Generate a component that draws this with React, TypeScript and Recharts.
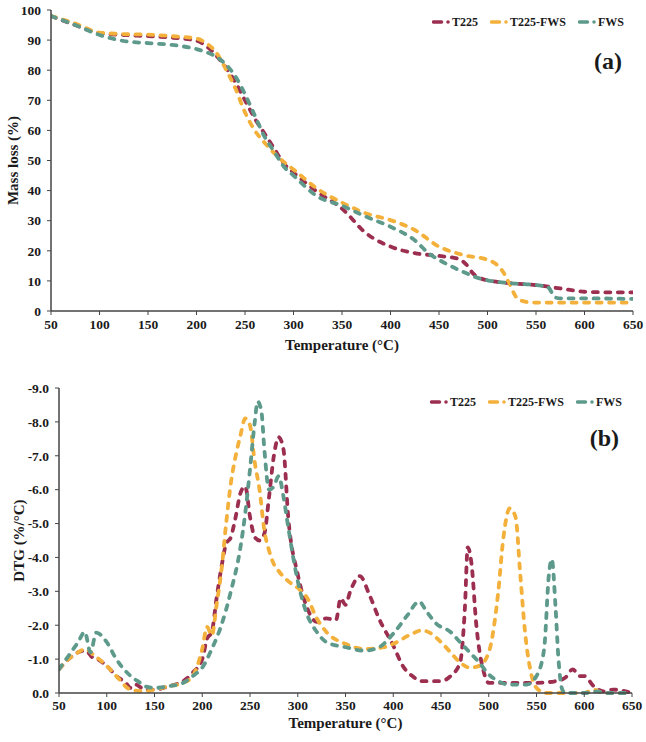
import { LineChart, Line, XAxis, YAxis } from 'recharts'

const SERIES = [
  { key: 't225', name: 'T225', color: '#9c2f50' },
  { key: 't225fws', name: 'T225-FWS', color: '#f3b03a' },
  { key: 'fws', name: 'FWS', color: '#5e9a8b' },
]

const tempTicks = [50, 100, 150, 200, 250, 300, 350, 400, 450, 500, 550, 600, 650]
const massTicks = [0, 10, 20, 30, 40, 50, 60, 70, 80, 90, 100]
const dtgTicks = [-9, -8, -7, -6, -5, -4, -3, -2, -1, 0]

// (a) mass loss, %
const tgT225Temp = [50, 75, 100, 125, 150, 175, 200, 210, 220, 230, 240, 250, 260, 270, 280, 290, 300, 325, 350, 375, 400, 425, 450, 470, 478, 485, 495, 500, 525, 550, 575, 600, 625, 650]
const tgT225 = [98, 95, 92.3, 91.7, 91.3, 90.8, 89.8, 88, 85, 81, 76, 70, 64, 59, 54, 49, 46, 39.5, 34, 25.8, 21.4, 19.2, 18.3, 17.3, 15.5, 12.5, 10.6, 10.2, 9.2, 8.6, 7.5, 6.4, 6.2, 6.2]

const tgT225FwsTemp = [50, 75, 100, 125, 150, 175, 200, 210, 220, 230, 240, 250, 260, 270, 280, 290, 300, 325, 350, 375, 400, 425, 450, 475, 500, 508, 515, 522, 530, 540, 550, 600, 650]
const tgT225Fws = [98, 95.5, 92.5, 92, 91.8, 91.3, 90.5, 89, 86, 80.5, 74, 66, 60, 56, 52.5, 49.5, 47, 40.5, 36, 32.4, 30.2, 26.9, 21.4, 18.6, 17, 15.8, 13.5, 9.5, 4.5, 3, 2.8, 2.8, 2.8]

const tgFwsTemp = [50, 75, 100, 125, 150, 175, 200, 210, 220, 230, 240, 250, 260, 270, 280, 290, 300, 325, 350, 375, 400, 425, 440, 450, 475, 490, 500, 525, 550, 562, 570, 575, 600, 650]
const tgFws = [98, 95, 91.7, 89.7, 89, 88.4, 87, 86, 84.5, 82, 78, 72, 65, 58, 53, 48, 45, 38, 35, 31.3, 28, 23.5, 19, 17, 13, 11, 10.2, 9.2, 8.6, 8, 4.5, 4.2, 4.2, 4]

// (b) DTG, %/°C
const dtgT225Temp = [50, 60, 70, 78, 85, 90, 100, 110, 120, 125, 130, 140, 150, 165, 180, 190, 200, 205, 210, 215, 220, 225, 230, 235, 240, 245, 250, 255, 260, 265, 270, 275, 280, 285, 290, 300, 310, 320, 330, 340, 345, 350, 355, 365, 375, 385, 400, 410, 420, 430, 450, 460, 470, 475, 478, 482, 487, 495, 500, 520, 550, 570, 580, 588, 595, 600, 610, 620, 630, 650]
const dtgT225 = [-0.7, -1.0, -1.2, -1.25, -1.05, -1.0, -0.8, -0.5, -0.3, -0.15, -0.25, -0.1, -0.1, -0.2, -0.35, -0.6, -1.0, -1.6, -1.8, -2.8, -3.7, -4.4, -4.6, -5.2, -5.9, -6.1, -5.2, -4.6, -4.5, -4.7, -5.8, -7.0, -7.55, -7.2, -5.2, -3.5, -2.5, -2.1, -2.2, -2.15, -2.8, -2.6, -3.0, -3.45, -2.9, -2.2, -1.4, -0.8, -0.5, -0.35, -0.35, -0.5, -0.9, -2.5, -4.3, -3.8, -2.0, -0.6, -0.3, -0.3, -0.3, -0.35, -0.45, -0.7, -0.5, -0.5, -0.2, -0.05, -0.1, 0]

const dtgT225FwsTemp = [50, 60, 70, 78, 85, 100, 110, 125, 140, 150, 165, 180, 190, 200, 205, 210, 215, 220, 225, 230, 235, 240, 245, 250, 255, 260, 265, 270, 275, 280, 290, 300, 310, 320, 330, 350, 370, 390, 400, 420, 430, 440, 450, 460, 470, 480, 490, 500, 510, 515, 522, 528, 533, 538, 545, 550, 560, 600, 605, 610, 620, 650]
const dtgT225Fws = [-0.7, -1.0, -1.2, -1.3, -1.15, -0.8, -0.5, -0.1, -0.05, -0.1, -0.2, -0.3, -0.5, -1.3, -1.95, -1.7, -2.6, -3.6, -5.0, -6.2, -7.0, -7.6, -8.1, -7.9, -6.8, -6.0, -4.8, -4.2, -3.8, -3.6, -3.3, -3.1, -2.8, -2.2, -1.8, -1.45, -1.3, -1.35, -1.45, -1.75, -1.85, -1.75, -1.5, -1.2, -0.9, -0.75, -0.8, -1.2, -3.0, -4.5, -5.45, -5.2, -3.5, -1.8, -0.5, -0.15, 0, 0, -0.05, -0.1, 0, 0]

const dtgFwsTemp = [50, 60, 70, 77, 83, 89, 100, 110, 125, 135, 140, 150, 165, 180, 190, 200, 210, 220, 230, 240, 245, 250, 255, 258, 262, 265, 270, 275, 280, 285, 290, 300, 310, 320, 330, 350, 370, 385, 400, 415, 427, 435, 445, 460, 470, 480, 490, 500, 510, 520, 540, 550, 558, 563, 566, 570, 573, 577, 580, 600, 615, 620, 650]
const dtgFws = [-0.7, -1.1, -1.5, -1.8, -1.2, -1.78, -1.5, -1.0, -0.5, -0.3, -0.2, -0.15, -0.2, -0.3, -0.5, -0.75, -1.3, -2.0, -3.0, -4.3, -5.3, -6.6, -8.0, -8.6, -8.3, -7.2, -6.0, -6.1, -6.4, -5.8, -4.9, -3.3, -2.3, -1.8, -1.5, -1.35, -1.25, -1.35, -1.75, -2.3, -2.7, -2.4, -2.05, -1.8, -1.5, -1.2, -0.9, -0.55, -0.35, -0.25, -0.25, -0.5, -1.3, -3.5, -3.95, -2.5, -1.0, -0.1, 0, 0, -0.05, 0, 0]

const zip = (ts: number[], vs: number[]) => ts.map((t, i) => ({ t, v: vs[i] }))

const tgData = [zip(tgT225Temp, tgT225), zip(tgT225FwsTemp, tgT225Fws), zip(tgFwsTemp, tgFws)]
const dtgData = [zip(dtgT225Temp, dtgT225), zip(dtgT225FwsTemp, dtgT225Fws), zip(dtgFwsTemp, dtgFws)]

const FONT = '"Liberation Serif", "Times New Roman", serif'
const INK = '#1a1a1a'
const AXIS = '#444'
const tickStyle = { fill: INK, fontSize: 13.5, fontWeight: 700, fontFamily: FONT }

const yTitle = (text: string, x: number) => (props: any) => {
  const vb = props.viewBox
  const cy = vb.y + vb.height / 2
  return (
    <text x={x} y={cy} transform={`rotate(-90 ${x} ${cy})`} textAnchor="middle" dominantBaseline="central"
      fill={INK} fontSize={15} fontWeight={700} fontFamily={FONT}>
      {text}
    </text>
  )
}

const xTitle = (text: string, dy: number) => (props: any) => {
  const vb = props.viewBox
  return (
    <text x={vb.x + vb.width / 2} y={vb.y + dy} textAnchor="middle" dominantBaseline="central"
      fill={INK} fontSize={15} fontWeight={700} fontFamily={FONT}>
      {text}
    </text>
  )
}

function LegendBox({ top, right }: { top: number; right: number }) {
  return (
    <div style={{ position: 'absolute', top, right, display: 'flex', alignItems: 'center', gap: 12, fontFamily: FONT, fontWeight: 700, fontSize: 12, color: INK, lineHeight: '14px' }}>
      {SERIES.map((s) => (
        <div key={s.key} style={{ display: 'flex', alignItems: 'center' }}>
          <svg width={19} height={8} style={{ marginRight: 1 }}>
            <line x1={1.5} y1={4} x2={9.5} y2={4} stroke={s.color} strokeWidth={3.5} strokeLinecap="round" />
            <circle cx={16} cy={4} r={1.8} fill={s.color} />
          </svg>
          <span>{s.name}</span>
        </div>
      ))}
    </div>
  )
}

function PanelTag({ text, top, right }: { text: string; top: number; right: number }) {
  return (
    <div style={{ position: 'absolute', top, right, fontFamily: FONT, fontWeight: 700, fontSize: 24, color: INK, lineHeight: '24px' }}>
      {text}
    </div>
  )
}

function lines(data: { t: number; v: number }[][]) {
  return SERIES.map((s, i) => (
    <Line
      key={s.key}
      data={data[i]}
      dataKey="v"
      name={s.name}
      type="monotone"
      stroke={s.color}
      strokeWidth={3.8}
      strokeDasharray="5 7.5"
      strokeLinecap="round"
      dot={false}
      activeDot={false}
      isAnimationActive={false}
    />
  ))
}

export default function App() {
  return (
    <div style={{ position: 'absolute', left: 0, top: 0, width: 646, height: 742, background: '#fff' }}>
      <div style={{ position: 'absolute', left: 0, top: 0 }}>
        <LineChart width={646} height={362} margin={{ top: 10, right: 13, left: 15, bottom: 5 }}>
          <XAxis dataKey="t" type="number" domain={[50, 650]} ticks={tempTicks} allowDataOverflow
            height={46} tickSize={4} tickMargin={4} tick={tickStyle}
            axisLine={{ stroke: AXIS, strokeWidth: 1.5 }} tickLine={{ stroke: AXIS }}
            label={xTitle('Temperature (°C)', 34)} />
          <XAxis xAxisId="top" orientation="top" type="number" domain={[50, 650]} height={0}
            tick={false} tickLine={false} axisLine={{ stroke: AXIS, strokeWidth: 1.5 }} />
          <YAxis type="number" domain={[0, 100]} ticks={massTicks} width={36} tickSize={4} tickMargin={6}
            tick={tickStyle} axisLine={{ stroke: AXIS, strokeWidth: 1.5 }} tickLine={{ stroke: AXIS }}
            label={yTitle('Mass loss (%)', 12.5)} />
          <YAxis yAxisId="right" orientation="right" type="number" domain={[0, 100]} width={0}
            tick={false} tickLine={false} axisLine={{ stroke: AXIS, strokeWidth: 1.5 }} />
          {lines(tgData)}
        </LineChart>
        <LegendBox top={15} right={22} />
        <PanelTag text="(a)" top={49} right={24} />
      </div>
      <div style={{ position: 'absolute', left: 0, top: 370 }}>
        <LineChart width={646} height={372} margin={{ top: 18, right: 14, left: 15, bottom: 4 }}>
          <XAxis dataKey="t" type="number" domain={[50, 650]} ticks={tempTicks} allowDataOverflow
            height={45} tickSize={4} tickMargin={3} tick={tickStyle}
            axisLine={{ stroke: AXIS, strokeWidth: 1.5 }} tickLine={{ stroke: AXIS }}
            label={xTitle('Temperature (°C)', 30)} />
          <XAxis xAxisId="top" orientation="top" type="number" domain={[50, 650]} height={0}
            tick={false} tickLine={false} axisLine={{ stroke: AXIS, strokeWidth: 1.5 }} />
          <YAxis type="number" domain={[-9, 0]} reversed ticks={dtgTicks} width={44} tickSize={4} tickMargin={6}
            tick={tickStyle} tickFormatter={(v: number) => v.toFixed(1)}
            axisLine={{ stroke: AXIS, strokeWidth: 1.5 }} tickLine={{ stroke: AXIS }}
            label={yTitle('DTG (%/°C)', 19)} />
          <YAxis yAxisId="right" orientation="right" type="number" domain={[-9, 0]} width={0}
            tick={false} tickLine={false} axisLine={{ stroke: AXIS, strokeWidth: 1.5 }} />
          {lines(dtgData)}
        </LineChart>
        <LegendBox top={25} right={24} />
        <PanelTag text="(b)" top={56} right={27} />
      </div>
    </div>
  )
}
